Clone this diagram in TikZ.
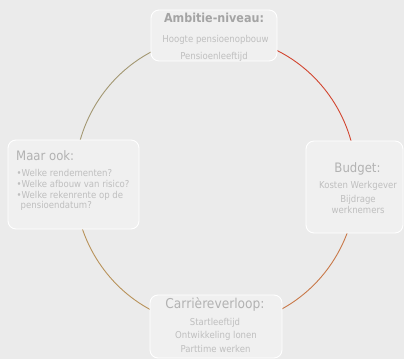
\documentclass[tikz,border=0pt]{standalone}
\usepackage{fontspec}
\setmainfont{DejaVu Sans Condensed}
\definecolor{bg}{HTML}{EBEBEB}
\definecolor{boxfill}{HTML}{F0F0F0}
\definecolor{titlec}{HTML}{B2B2B2}
\definecolor{bodyc}{HTML}{BFBFBF}
\definecolor{arcred}{HTML}{D2452F}
\definecolor{arcorange}{HTML}{C87848}
\definecolor{arctan}{HTML}{B8925A}
\definecolor{arcolive}{HTML}{A39872}
\begin{document}
\begin{tikzpicture}[x=1pt,y=-1pt,
  panel/.style={draw=white,line width=0.9pt,fill=boxfill,rounded corners=8pt},
  ttl/.style={text=titlec,inner sep=0pt,font=\fontsize{12}{13}\selectfont},
  bdy/.style={text=bodyc,inner sep=0pt,font=\fontsize{9.5}{10}\selectfont},
  cyc/.style={line width=0.9pt}]
\useasboundingbox (0,0) rectangle (404,359);
\fill[bg] (0,0) rectangle (404,359);
\draw[cyc,arcred] (215.5,36) arc[start angle=90,end angle=0,x radius=141pt,y radius=145pt];
\draw[cyc,arcorange] (356.5,181) arc[start angle=0,end angle=-90,x radius=141pt,y radius=145pt];
\draw[cyc,arctan] (215.5,326) arc[start angle=-90,end angle=-180,x radius=141pt,y radius=145pt];
\draw[cyc,arcolive] (74.5,181) arc[start angle=180,end angle=90,x radius=141pt,y radius=145pt];
% boxes
\draw[panel] (151,10) rectangle (277,61);
\draw[panel] (8,140) rectangle (139,229);
\draw[panel] (306,141) rectangle (403,233);
\draw[panel] (150,295) rectangle (282,358);
% top
\node[ttl,font=\bfseries\fontsize{12.4}{13}\selectfont,text=titlec!92!black] (t1) at (214,17.5) {Ambitie-niveau:};
\node[bdy] (t2) at (215.5,40) {Hoogte pensioenopbouw};
\node[bdy] (t3) at (214,56.5) {Pensioenleeftijd};
% left
\node[ttl,anchor=west,font=\fontsize{13}{14}\selectfont] (l1) at (16,155.5) {Maar ook:};
\node[bdy,anchor=west] (l2) at (16.5,172.7) {•Welke rendementen?};
\node[bdy,anchor=west] (l3) at (16.5,184) {•Welke afbouw van risico?};
\node[bdy,anchor=west] (l4) at (16.5,195.7) {•Welke rekenrente op de};
\node[bdy,anchor=west] (l5) at (20.5,205.5) {pensioendatum?};
% right
\node[ttl,font=\fontsize{13}{14}\selectfont] (r1) at (357.5,168.5) {Budget:};
\node[bdy] (r2) at (358,185.7) {Kosten Werkgever};
\node[bdy] (r3) at (358,199.7) {Bijdrage};
\node[bdy] (r4) at (358,209.7) {werknemers};
% bottom
\node[ttl,font=\fontsize{13.6}{14}\selectfont] (b1) at (215,304.5) {Carrièreverloop:};
\node[bdy] (b2) at (215,322.7) {Startleeftijd};
\node[bdy] (b3) at (216,335.7) {Ontwikkeling lonen};
\node[bdy] (b4) at (215.5,349.3) {Parttime werken};
\end{tikzpicture}
\end{document}
